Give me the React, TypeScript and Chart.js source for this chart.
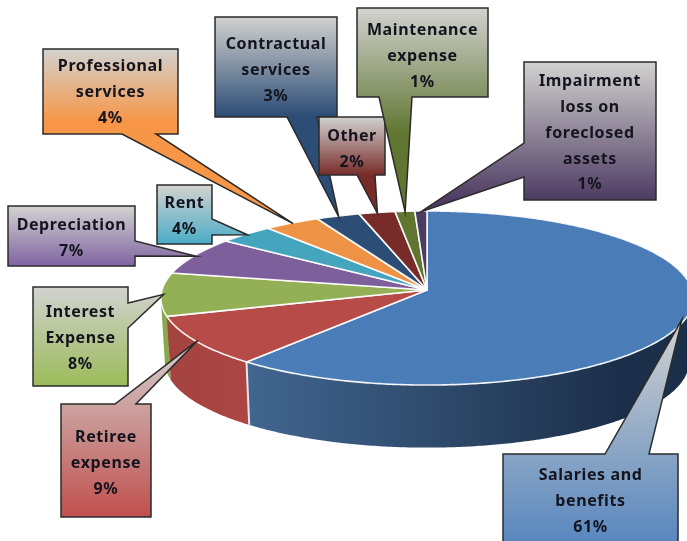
import React, { useEffect, useRef } from "react";
import { Chart, registerables } from "chart.js";

Chart.register(...registerables);

// Data, clockwise from 12 o'clock
const categories = [
  "Salaries and benefits",
  "Retiree expense",
  "Interest Expense",
  "Depreciation",
  "Rent",
  "Professional services",
  "Contractual services",
  "Other",
  "Maintenance expense",
  "Impairment loss on foreclosed assets",
];
const values = [60.9, 9.3, 8, 7, 3.7, 3.7, 2.9, 2.4, 1.3, 0.8];

const labelLines = [
  ["Salaries and", "benefits"],
  ["Retiree", "expense"],
  ["Interest", "Expense"],
  ["Depreciation"],
  ["Rent"],
  ["Professional", "services"],
  ["Contractual", "services"],
  ["Other"],
  ["Maintenance", "expense"],
  ["Impairment", "loss on", "foreclosed", "assets"],
];

// Styles
const faceColors = ["#4A7CB8", "#B64B48", "#94B056", "#7D5F9B", "#46A5BE", "#EE9345", "#2C4D75", "#772C2A", "#5F7530", "#4D3B62"];
const wallStart = ["#41668F", "#A34340", "#8AA84B", "#6E5389", "#3E93A8", "#D5823C", "#254265", "#662523", "#52662A", "#413253"];
const wallEnd = ["#1C2F4A", "#AB4643", "#8AA84B", "#6E5389", "#3E93A8", "#D5823C", "#254265", "#662523", "#52662A", "#413253"];
const calloutColors = ["#4F81BD", "#C0504D", "#9BBB59", "#8064A2", "#4BACC6", "#F79646", "#2C4D75", "#772C2A", "#5F7530", "#4D3B62"];

type Callout = {
  box: [number, number, number, number];
  side: "top" | "bottom" | "left" | "right";
  base: [number, number];
  textY: number;
  fullAt?: number;
};

// Callout geometry per slice
const callouts: Callout[] = [
  { box: [503, 454, 678, 560], side: "top", base: [605, 649], textY: 500, fullAt: 560 },
  { box: [61, 404, 151, 517], side: "top", base: [115, 136], textY: 462 },
  { box: [33, 287, 128, 386], side: "right", base: [303, 328], textY: 337 },
  { box: [8, 206, 135, 266], side: "right", base: [241, 256], textY: 237.5 },
  { box: [157, 185, 212, 244], side: "right", base: [219, 235], textY: 215 },
  { box: [43, 49, 178, 134], side: "bottom", base: [122, 156], textY: 91, fullAt: 122 },
  { box: [215, 17, 337, 117], side: "bottom", base: [287, 317], textY: 69, fullAt: 116 },
  { box: [319, 117, 385, 175], side: "bottom", base: [357, 375], textY: 148 },
  { box: [357, 8, 488, 97], side: "bottom", base: [379, 412], textY: 55, fullAt: 135 },
  { box: [524, 62, 656, 200], side: "left", base: [143, 177], textY: 132 },
];
const drawOrder = [0, 1, 2, 3, 5, 4, 6, 7, 8, 9];

// Perspective projection of the pie
const CX = 427;
const CY = 290;
const A = 265;
const B = 86.3;
const P = 0.092;
const DEPTH = 64;
const BOTTOM_SCALE = 0.985;

const project = (angle: number, r = 1) => {
  const u = Math.cos(angle) * r;
  const v = Math.sin(angle) * r;
  const w = 1 - P * v;
  return { x: (A * u) / w, y: (B * v) / w };
};
const top = (angle: number, r = 1) => {
  const p = project(angle, r);
  return { x: CX + p.x, y: CY + p.y };
};
const bottom = (angle: number) => {
  const p = project(angle);
  return { x: CX + p.x * BOTTOM_SCALE, y: CY + p.y * BOTTOM_SCALE + DEPTH };
};

const arcSteps = (start: number, end: number) => Math.max(2, Math.ceil((end - start) / 0.01));

const piePlugin = {
  id: "perspectivePie",
  beforeDatasetsDraw(chart: any) {
    const ctx: CanvasRenderingContext2D = chart.ctx;
    const arcs = chart.getDatasetMeta(0).data as any[];

    // Side walls, back to front. All strips of a slice go into one path with
    // the same winding, so the fold at the silhouette stays filled without seams.
    const order = arcs
      .map((a, i) => ({ a, i, v: Math.sin((a.startAngle + a.endAngle) / 2) }))
      .sort((p, q) => p.v - q.v);
    for (const { a, i } of order) {
      const g = i === 0 ? ctx.createLinearGradient(248, 0, 620, 0) : ctx.createLinearGradient(165, 0, 248, 0);
      g.addColorStop(0, wallStart[i]);
      g.addColorStop(1, wallEnd[i]);
      const n = arcSteps(a.startAngle, a.endAngle);
      ctx.beginPath();
      for (let k = 0; k < n; k++) {
        const t0 = a.startAngle + ((a.endAngle - a.startAngle) * k) / n;
        const t1 = a.startAngle + ((a.endAngle - a.startAngle) * (k + 1)) / n;
        const quad = [top(t0), top(t1), bottom(t1), bottom(t0)];
        let area = 0;
        quad.forEach((p, j) => {
          const q = quad[(j + 1) % 4];
          area += p.x * q.y - q.x * p.y;
        });
        if (area < 0) quad.reverse();
        quad.forEach((p, j) => (j === 0 ? ctx.moveTo(p.x, p.y) : ctx.lineTo(p.x, p.y)));
        ctx.closePath();
      }
      ctx.fillStyle = g;
      ctx.fill("nonzero");
    }
    // Light seam between the salaries and retiree walls
    {
      const end = arcs[0].endAngle;
      const p0 = top(end);
      const p1 = bottom(end);
      ctx.beginPath();
      ctx.moveTo(p0.x, p0.y);
      ctx.lineTo(p1.x, p1.y);
      ctx.strokeStyle = "#EDE6E6";
      ctx.lineWidth = 2;
      ctx.stroke();
    }

    // Top face
    arcs.forEach((a, i) => {
      const n = arcSteps(a.startAngle, a.endAngle);
      ctx.beginPath();
      ctx.moveTo(CX, CY);
      for (let k = 0; k <= n; k++) {
        const t = a.startAngle + ((a.endAngle - a.startAngle) * k) / n;
        const p = top(t);
        ctx.lineTo(p.x, p.y);
      }
      ctx.closePath();
      ctx.fillStyle = faceColors[i];
      ctx.fill();
      ctx.strokeStyle = "rgba(255,255,255,0.92)";
      ctx.lineWidth = 1.6;
      ctx.lineJoin = "round";
      ctx.stroke();
    });
    return false;
  },
  afterDraw(chart: any) {
    const ctx: CanvasRenderingContext2D = chart.ctx;
    const arcs = chart.getDatasetMeta(0).data as any[];
    const total = values.reduce((s, v) => s + v, 0);

    for (const i of drawOrder) {
      const c = callouts[i];
      const a = arcs[i];
      const tip = top((a.startAngle + a.endAngle) / 2, 0.99);
      const [x0, y0, x1, y1] = c.box;
      const [b0, b1] = c.base;
      ctx.beginPath();
      ctx.moveTo(x0, y0);
      if (c.side === "top") { ctx.lineTo(b0, y0); ctx.lineTo(tip.x, tip.y); ctx.lineTo(b1, y0); }
      ctx.lineTo(x1, y0);
      if (c.side === "right") { ctx.lineTo(x1, b0); ctx.lineTo(tip.x, tip.y); ctx.lineTo(x1, b1); }
      ctx.lineTo(x1, y1);
      if (c.side === "bottom") { ctx.lineTo(b1, y1); ctx.lineTo(tip.x, tip.y); ctx.lineTo(b0, y1); }
      ctx.lineTo(x0, y1);
      if (c.side === "left") { ctx.lineTo(x0, b1); ctx.lineTo(tip.x, tip.y); ctx.lineTo(x0, b0); }
      ctx.closePath();
      const gTop = Math.min(y0, tip.y);
      const g = ctx.createLinearGradient(0, gTop, 0, c.fullAt ?? y1);
      g.addColorStop(0, "#D2D2D0");
      g.addColorStop(1, calloutColors[i]);
      ctx.fillStyle = g;
      ctx.fill();
      ctx.strokeStyle = "#2B2B2B";
      ctx.lineWidth = 1.5;
      ctx.lineJoin = "miter";
      ctx.stroke();

      const lines = [...labelLines[i], `${Math.round((values[i] / total) * 100)}%`];
      ctx.font = 'bold 16px "Noto Sans"';
      (ctx as any).letterSpacing = "0.6px";
      ctx.textAlign = "center";
      ctx.textBaseline = "middle";
      ctx.fillStyle = "#14141E";
      const lh = 25.8;
      const cx = (x0 + x1) / 2;
      lines.forEach((line, k) => {
        ctx.fillText(line, cx, c.textY + 1.2 + (k - (lines.length - 1) / 2) * lh);
      });
      (ctx as any).letterSpacing = "0px";
    }
  },
};

export default function App() {
  const ref = useRef<HTMLCanvasElement>(null);
  useEffect(() => {
    if (!ref.current) return;
    const chart = new Chart(ref.current, {
      type: "pie",
      data: {
        labels: categories,
        datasets: [{ data: values, backgroundColor: faceColors }],
      },
      options: {
        responsive: false,
        animation: false,
        devicePixelRatio: 1,
        plugins: { legend: { display: false }, tooltip: { enabled: false } },
      },
      plugins: [piePlugin],
    } as any);
    return () => chart.destroy();
  }, []);
  return (
    <div style={{ position: "absolute", left: 0, top: 0, width: 687, height: 541, overflow: "hidden", background: "#fff" }}>
      <canvas ref={ref} width={687} height={541} style={{ display: "block", filter: "blur(0.5px)" }} />
    </div>
  );
}
